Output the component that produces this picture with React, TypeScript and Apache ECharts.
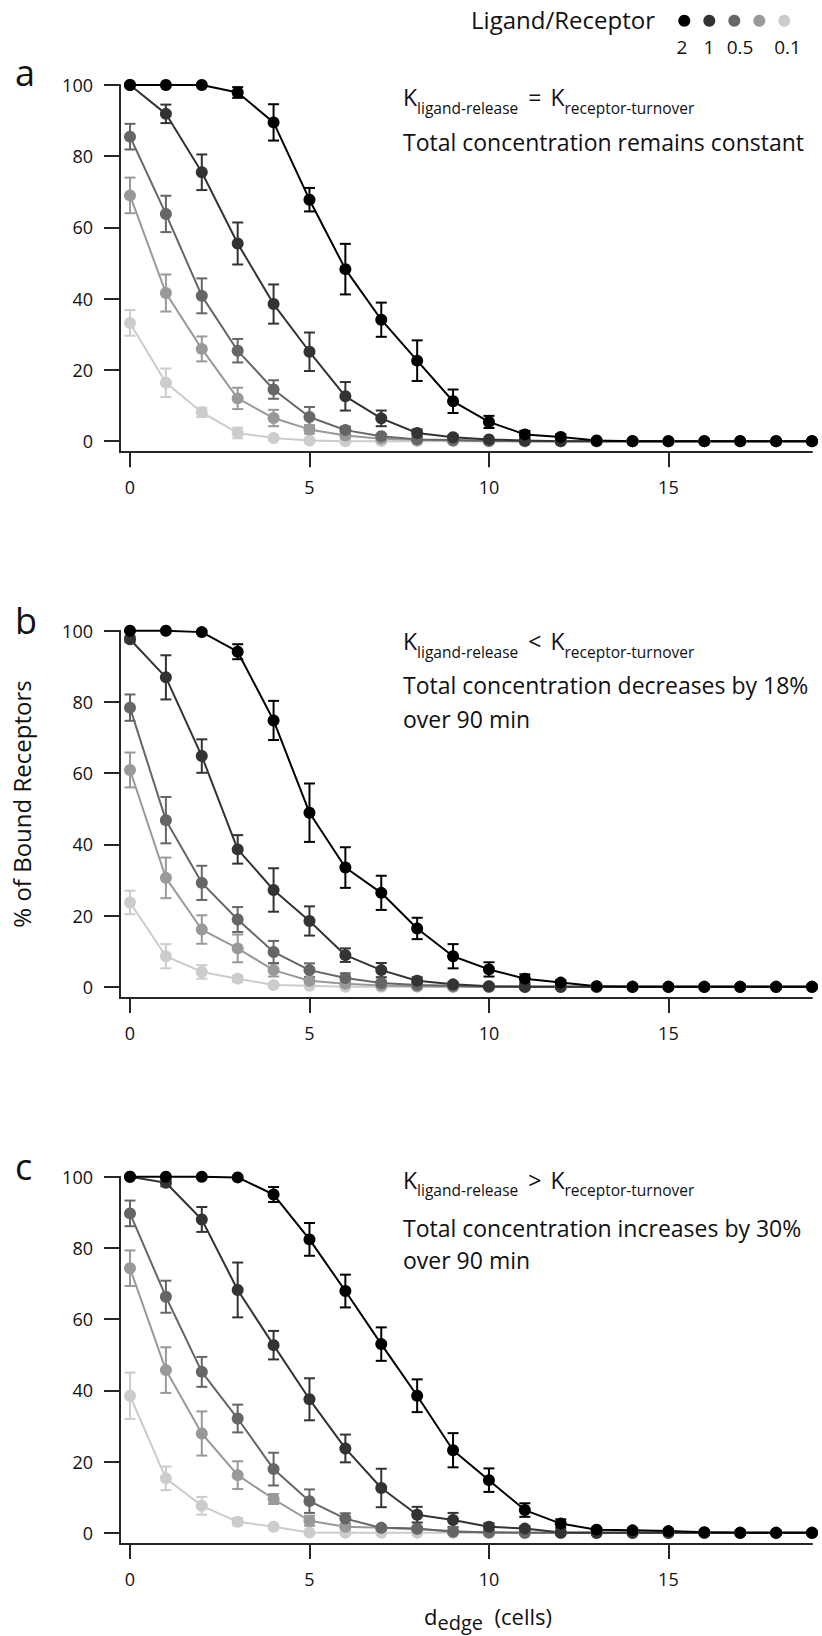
import React, { useEffect, useRef } from "react";
import * as echarts from "echarts";

// ---------- data ----------
const dEdge = [0, 1, 2, 3, 4, 5, 6, 7, 8, 9, 10, 11, 12, 13, 14, 15, 16, 17, 18, 19];
const xTicks = [0, 5, 10, 15];
const yTicks = [0, 20, 40, 60, 80, 100];
const ratioLabels = ["2", "1", "0.5", "0.1"];
const ratioColors = ["#000000", "#333333", "#666666", "#999999", "#cccccc"];
const panelLetters = ["a", "b", "c"];

// Panel a: K ligand-release = K receptor-turnover
const aMean2 = [100, 100, 100, 97.9, 89.5, 67.8, 48.3, 34.1, 22.6, 11.2, 5.4, 1.9, 1.2, 0.2, 0, 0, 0, 0, 0, 0];
const aErr2 = [0, 0, 0, 1.5, 5.1, 3.3, 7.1, 4.8, 5.7, 3.3, 1.7, 1.0, 0.8, 0, 0, 0, 0, 0, 0, 0];
const aMean1 = [100, 91.9, 75.5, 55.5, 38.5, 25.1, 12.6, 6.4, 2.3, 1.1, 0.5, 0.2, 0, 0, 0, 0, 0, 0, 0, 0];
const aErr1 = [0, 2.6, 5.0, 5.9, 5.5, 5.4, 4.0, 2.2, 1.0, 0.6, 0, 0, 0, 0, 0, 0, 0, 0, 0, 0];
const aMean05 = [85.5, 63.8, 40.8, 25.4, 14.5, 6.8, 3.1, 1.4, 0.5, 0.3, 0.1, 0, 0, 0, 0, 0, 0, 0, 0, 0];
const aErr05 = [3.6, 5.1, 4.9, 3.3, 2.6, 2.8, 1.0, 0.6, 0, 0, 0, 0, 0, 0, 0, 0, 0, 0, 0, 0];
const aMean025 = [69.0, 41.6, 25.9, 12.0, 6.5, 3.3, 1.6, 0.7, 0.4, 0.2, 0, 0, 0, 0, 0, 0, 0, 0, 0, 0];
const aErr025 = [5.0, 5.2, 3.5, 3.0, 2.3, 1.2, 0.6, 0, 0, 0, 0, 0, 0, 0, 0, 0, 0, 0, 0, 0];
const aMean01 = [33.2, 16.4, 8.1, 2.3, 0.9, 0.2, 0, 0, 0, 0, 0, 0, 0, 0, 0, 0, 0, 0, 0, 0];
const aErr01 = [3.6, 4.0, 1.3, 1.5, 0.5, 0, 0, 0, 0, 0, 0, 0, 0, 0, 0, 0, 0, 0, 0, 0];

// Panel b: K ligand-release < K receptor-turnover
const bMean2 = [100, 100, 99.6, 94.1, 74.8, 48.9, 33.5, 26.4, 16.4, 8.6, 4.9, 2.3, 1.2, 0.2, 0, 0, 0, 0, 0, 0];
const bErr2 = [0, 0, 0, 2.1, 5.5, 8.2, 5.7, 4.8, 3.0, 3.4, 2.0, 1.2, 0.6, 0, 0, 0, 0, 0, 0, 0];
const bMean1 = [97.6, 86.9, 64.8, 38.6, 27.2, 18.5, 8.9, 4.7, 1.7, 0.7, 0.2, 0, 0, 0, 0, 0, 0, 0, 0, 0];
const bErr1 = [0.8, 6.2, 4.7, 4.0, 6.1, 4.1, 1.9, 2.0, 1.0, 0.5, 0, 0, 0, 0, 0, 0, 0, 0, 0, 0];
const bMean05 = [78.4, 46.8, 29.2, 18.9, 9.8, 4.7, 2.5, 1.1, 0.5, 0.3, 0, 0, 0, 0, 0, 0, 0, 0, 0, 0];
const bErr05 = [3.7, 6.5, 4.8, 3.5, 3.1, 1.9, 1.3, 0.6, 0, 0, 0, 0, 0, 0, 0, 0, 0, 0, 0, 0];
const bMean025 = [60.9, 30.6, 16.1, 10.8, 4.7, 1.7, 0.9, 0.4, 0.2, 0, 0, 0, 0, 0, 0, 0, 0, 0, 0, 0];
const bErr025 = [4.9, 5.7, 4.0, 3.9, 1.8, 0.8, 0, 0, 0, 0, 0, 0, 0, 0, 0, 0, 0, 0, 0, 0];
const bMean01 = [23.7, 8.6, 4.2, 2.3, 0.5, 0.3, 0, 0, 0, 0, 0, 0, 0, 0, 0, 0, 0, 0, 0, 0];
const bErr01 = [3.3, 3.4, 1.9, 0.9, 0.4, 0, 0, 0, 0, 0, 0, 0, 0, 0, 0, 0, 0, 0, 0, 0];

// Panel c: K ligand-release > K receptor-turnover
const cMean2 = [100, 100, 100, 99.8, 95.0, 82.4, 67.9, 53.0, 38.5, 23.2, 14.8, 6.4, 2.6, 0.9, 0.7, 0.5, 0.2, 0, 0, 0];
const cErr2 = [0, 0, 0, 0, 2.1, 4.6, 4.6, 4.7, 4.6, 4.8, 3.3, 1.9, 1.2, 0.5, 0, 0, 0, 0, 0, 0];
const cMean1 = [100, 98.3, 88.0, 68.2, 52.7, 37.5, 23.7, 12.6, 5.1, 3.6, 1.7, 1.2, 0.1, 0, 0, 0, 0, 0, 0, 0];
const cErr1 = [0, 1.0, 3.5, 7.7, 4.0, 5.9, 3.9, 5.4, 2.2, 2.0, 1.0, 0.6, 0, 0, 0, 0, 0, 0, 0, 0];
const cMean05 = [89.7, 66.3, 45.2, 32.1, 17.9, 8.9, 4.0, 1.4, 1.2, 0.3, 0.2, 0, 0, 0, 0, 0, 0, 0, 0, 0];
const cErr05 = [3.6, 4.5, 4.2, 3.9, 4.6, 3.3, 1.5, 0.5, 0.4, 0, 0, 0, 0, 0, 0, 0, 0, 0, 0, 0];
const cMean025 = [74.3, 45.7, 27.9, 16.2, 9.5, 3.4, 1.7, 1.4, 1.0, 0.5, 0, 0, 0, 0, 0, 0, 0, 0, 0, 0];
const cErr025 = [5.0, 6.4, 6.2, 3.9, 1.4, 1.4, 0.7, 0, 0, 0, 0, 0, 0, 0, 0, 0, 0, 0, 0, 0];
const cMean01 = [38.5, 15.3, 7.6, 3.1, 1.7, 0.1, 0, 0, 0, 0, 0, 0, 0, 0, 0, 0, 0, 0, 0, 0];
const cErr01 = [6.5, 3.3, 2.5, 1.0, 0.7, 0, 0, 0, 0, 0, 0, 0, 0, 0, 0, 0, 0, 0, 0, 0];

const panelMeans = [
  [aMean2, aMean1, aMean05, aMean025, aMean01],
  [bMean2, bMean1, bMean05, bMean025, bMean01],
  [cMean2, cMean1, cMean05, cMean025, cMean01],
];
const panelErrs = [
  [aErr2, aErr1, aErr05, aErr025, aErr01],
  [bErr2, bErr1, bErr05, bErr025, bErr01],
  [cErr2, cErr1, cErr05, cErr025, cErr01],
];
const panelOps = ["=", "<", ">"];
const panelNotes = [
  "Total concentration remains constant",
  "Total concentration decreases by 18%\nover 90 min",
  "Total concentration increases by 30%\nover 90 min",
];

// ---------- layout ----------
const FONT = "'Open Sans', 'Noto Sans', sans-serif";
const gridTops = [85, 630.7, 1176.7];
const GRID_LEFT = 120;
const GRID_WIDTH = 692;
const GRID_HEIGHT = 367.2;
const X_MIN = -0.2786;
const Y_MIN = -3.1;
const kTops = [85.7, 629.7, 1168];
const noteTops = [125.3, 668.6, 1212];
const noteLineHeights = [33.4, 33.4, 32];
const letterYs = [72.4, 620, 1166.4];

export default function App() {
  const ref = useRef<HTMLDivElement>(null);

  useEffect(() => {
    if (!ref.current) return;
    const chart = echarts.init(ref.current, null, { renderer: "svg" });

    const grids: any[] = [];
    const xAxes: any[] = [];
    const yAxes: any[] = [];
    const series: any[] = [];
    const graphics: any[] = [];
    const axisColor = "#262626";

    gridTops.forEach((top, i) => {
      grids.push({ left: GRID_LEFT, top, width: GRID_WIDTH, height: GRID_HEIGHT, outerBoundsMode: "none" });
      xAxes.push({
        type: "value",
        gridIndex: i,
        min: X_MIN,
        max: 19,
        axisLine: { show: true, onZero: false, lineStyle: { color: axisColor, width: 2 } },
        axisTick: { show: true, length: 15, customValues: xTicks, lineStyle: { color: axisColor, width: 2 } },
        axisLabel: { show: true, customValues: xTicks, margin: 26, fontSize: 18, fontFamily: FONT, color: "#111" },
        splitLine: { show: false },
      });
      yAxes.push({
        type: "value",
        gridIndex: i,
        min: Y_MIN,
        max: 100,
        axisLine: { show: true, onZero: false, lineStyle: { color: axisColor, width: 2 } },
        axisTick: { show: true, length: 16, customValues: yTicks, lineStyle: { color: axisColor, width: 2 } },
        axisLabel: { show: true, customValues: yTicks, margin: 27, fontSize: 18, fontFamily: FONT, color: "#111" },
        splitLine: { show: false },
      });

      for (let s = 4; s >= 0; s--) {
        const color = ratioColors[s];
        const means = panelMeans[i][s];
        const errs = panelErrs[i][s];
        const errData = dEdge
          .map((x, k) => [x, means[k], errs[k]])
          .filter((d) => d[2] > 0);
        series.push({
          type: "custom",
          xAxisIndex: i,
          yAxisIndex: i,
          silent: true,
          clip: false,
          data: errData,
          encode: { x: 0, y: 1 },
          renderItem: (params: any, api: any) => {
            const x = api.value(0);
            const y = api.value(1);
            const e = api.value(2);
            const p1 = api.coord([x, y + e]);
            const p2 = api.coord([x, y - e]);
            const cw = 5.5;
            const st = { stroke: color, lineWidth: 2 };
            return {
              type: "group",
              children: [
                { type: "line", shape: { x1: p1[0], y1: p1[1], x2: p2[0], y2: p2[1] }, style: st },
                { type: "line", shape: { x1: p1[0] - cw, y1: p1[1], x2: p1[0] + cw, y2: p1[1] }, style: st },
                { type: "line", shape: { x1: p2[0] - cw, y1: p2[1], x2: p2[0] + cw, y2: p2[1] }, style: st },
              ],
            };
          },
        });
        series.push({
          type: "line",
          xAxisIndex: i,
          yAxisIndex: i,
          silent: true,
          clip: false,
          data: dEdge.map((x, k) => [x, means[k]]),
          symbol: "circle",
          symbolSize: 12,
          showSymbol: true,
          lineStyle: { color, width: 2 },
          itemStyle: { color },
          emphasis: { disabled: true },
        });
      }

      // panel letter
      graphics.push({
        type: "text",
        x: 15,
        y: letterYs[i],
        style: { text: panelLetters[i], fontSize: 36, fontFamily: FONT, fill: "#111", align: "left", verticalAlign: "middle" },
      });
      // K relation line
      graphics.push({
        type: "text",
        x: 403,
        y: kTops[i],
        style: {
          text: `{k|K}{s|ligand-release}{o|${panelOps[i]}}{k|K}{s|receptor-turnover}`,
          align: "left",
          verticalAlign: "top",
          fontFamily: FONT,
          fill: "#111",
          rich: {
            k: { fontSize: 23, lineHeight: 28, fontFamily: FONT, fill: "#111", verticalAlign: "top" },
            o: { fontSize: 23, lineHeight: 28, fontFamily: FONT, fill: "#111", verticalAlign: "top", padding: [0, 9, 0, 10] },
            s: { fontSize: 15.5, lineHeight: 16, fontFamily: FONT, fill: "#111", verticalAlign: "top", padding: [14, 0, 0, 0] },
          },
        },
      });
      // note text
      graphics.push({
        type: "text",
        x: 403,
        y: noteTops[i],
        style: {
          text: panelNotes[i],
          fontSize: 23,
          lineHeight: noteLineHeights[i],
          fontFamily: FONT,
          fill: "#111",
          align: "left",
          verticalAlign: "top",
        },
      });
    });

    // legend
    graphics.push({
      type: "text",
      x: 655,
      y: 19,
      style: { text: "Ligand/Receptor", fontSize: 24, fontFamily: FONT, fill: "#111", align: "right", verticalAlign: "middle" },
    });
    ratioColors.forEach((c, k) => {
      graphics.push({ type: "circle", shape: { cx: 684.3 + 25 * k, cy: 20.7, r: 6 }, style: { fill: c } });
    });
    const legendLabelX = [682, 709, 740, 787.5];
    ratioLabels.forEach((t, k) => {
      graphics.push({
        type: "text",
        x: legendLabelX[k],
        y: 46.6,
        style: { text: t, fontSize: 19, fontFamily: FONT, fill: "#111", align: "center", verticalAlign: "middle" },
      });
    });

    // y axis title
    graphics.push({
      type: "text",
      x: 21.5,
      y: 804,
      rotation: Math.PI / 2,
      style: { text: "% of Bound Receptors", fontSize: 24, fontFamily: FONT, fill: "#111", align: "center", verticalAlign: "middle" },
    });
    // x axis title
    graphics.push({
      type: "text",
      x: 488,
      y: 1604.6,
      style: {
        text: "{m|d}{e|edge}{m|  (cells)}",
        align: "center",
        verticalAlign: "top",
        fontFamily: FONT,
        fill: "#111",
        rich: {
          m: { fontSize: 22, lineHeight: 26, fontFamily: FONT, fill: "#111", verticalAlign: "top" },
          e: { fontSize: 20, lineHeight: 20, fontFamily: FONT, fill: "#111", verticalAlign: "top", padding: [8, 0, 0, 0] },
        },
      },
    });

    chart.setOption({
      animation: false,
      backgroundColor: "#ffffff",
      grid: grids,
      xAxis: xAxes,
      yAxis: yAxes,
      series,
      graphic: graphics,
    });

    return () => {
      chart.dispose();
    };
  }, []);

  return (
    <div
      ref={ref}
      style={{ position: "absolute", left: 0, top: 0, width: 822, height: 1636 }}
    />
  );
}
